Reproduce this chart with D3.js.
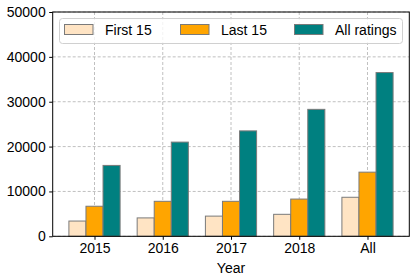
<!DOCTYPE html>
<html><head><meta charset="utf-8">
<script src="https://cdn.jsdelivr.net/npm/d3@7"></script>
<style>body{margin:0;background:#fff;} text{font-family:"Liberation Sans",Arial,sans-serif;}</style>
</head><body><svg id="c" width="416" height="280"></svg>
<script>
const categories = ["2015", "2016", "2017", "2018", "All"];
const seriesNames = ["First 15", "Last 15", "All ratings"];
const first15 = [3400, 4100, 4500, 4900, 8700];
const last15 = [6700, 7800, 7800, 8300, 14300];
const allRatings = [15800, 21000, 23500, 28300, 36500];
const yTicks = [0, 10000, 20000, 30000, 40000, 50000];
const colors = ["#ffe4c4", "#ffa500", "#008080"];
const series = [first15, last15, allRatings];

const FS = 14;
const svg = d3.select("#c");
const L = 52.7, R = 409.3, T = 12, B = 236.3;
const bw = 0.25;
const x = d3.scaleLinear().domain([-0.6125, 4.6125]).range([L, R]);
const y = d3.scaleLinear().domain([0, 50000]).range([B, T]);

// grid
const g = svg.append("g");
g.selectAll(".gy").data(yTicks).enter().append("line")
  .attr("x1", L).attr("x2", R).attr("y1", d => y(d)).attr("y2", d => y(d))
  .attr("stroke", "#b0b0b0").attr("stroke-width", 0.8).attr("stroke-dasharray", "3,2");
g.selectAll(".gx").data(categories).enter().append("line")
  .attr("x1", (d, i) => x(i)).attr("x2", (d, i) => x(i)).attr("y1", T).attr("y2", B)
  .attr("stroke", "#b0b0b0").attr("stroke-width", 0.8).attr("stroke-dasharray", "3,2");

// bars
series.forEach((vals, s) => {
  svg.append("g").selectAll("rect").data(vals).enter().append("rect")
    .attr("x", (d, i) => x(i + (s - 1) * bw - bw / 2))
    .attr("width", (d, i) => x(i + (s - 1) * bw + bw / 2) - x(i + (s - 1) * bw - bw / 2))
    .attr("y", d => y(d))
    .attr("height", d => y(0) - y(d))
    .attr("fill", colors[s])
    .attr("stroke", "#7a7a7a").attr("stroke-width", 1);
});

// axes
const xAxis = d3.axisBottom(x).tickValues(d3.range(categories.length))
  .tickFormat(i => categories[i]).tickSize(3.5).tickPadding(3.5);
const ax = svg.append("g").attr("transform", `translate(0,${B})`).call(xAxis);
ax.select(".domain").remove();
ax.selectAll("text").attr("font-size", FS).attr("fill", "#000").attr("font-family", "Liberation Sans, Arial, sans-serif");
ax.selectAll("line").attr("stroke", "#000");

const yAxis = d3.axisLeft(y).tickValues(yTicks).tickFormat(d3.format("d")).tickSize(3.5).tickPadding(3.5);
const ay = svg.append("g").attr("transform", `translate(${L},0)`).call(yAxis);
ay.select(".domain").remove();
ay.selectAll("text").attr("font-size", FS).attr("fill", "#000").attr("font-family", "Liberation Sans, Arial, sans-serif");
ay.selectAll("line").attr("stroke", "#000");

svg.append("rect").attr("x", L).attr("y", T).attr("width", R - L).attr("height", B - T)
  .attr("fill", "none").attr("stroke", "#000").attr("stroke-width", 1);

svg.append("text").attr("x", x(2)).attr("y", 273).attr("text-anchor", "middle")
  .attr("font-size", FS).text("Year");

// legend
const lg = svg.append("g");
lg.append("rect").attr("x", 59.5).attr("y", 18.5).attr("width", 343).attr("height", 25)
  .attr("rx", 3).attr("fill", "#fff").attr("fill-opacity", 0.8).attr("stroke", "#d0d0d0").attr("stroke-width", 1);
const legX = [64.5, 180.5, 294.5];
seriesNames.forEach((n, i) => {
  lg.append("rect").attr("x", legX[i]).attr("y", 24.5).attr("width", 28.5).attr("height", 10)
    .attr("fill", colors[i]).attr("stroke", "#7a7a7a").attr("stroke-width", 1);
  lg.append("text").attr("x", legX[i] + 40.5).attr("y", 35).attr("font-size", FS).text(n);
});
</script></body></html>
